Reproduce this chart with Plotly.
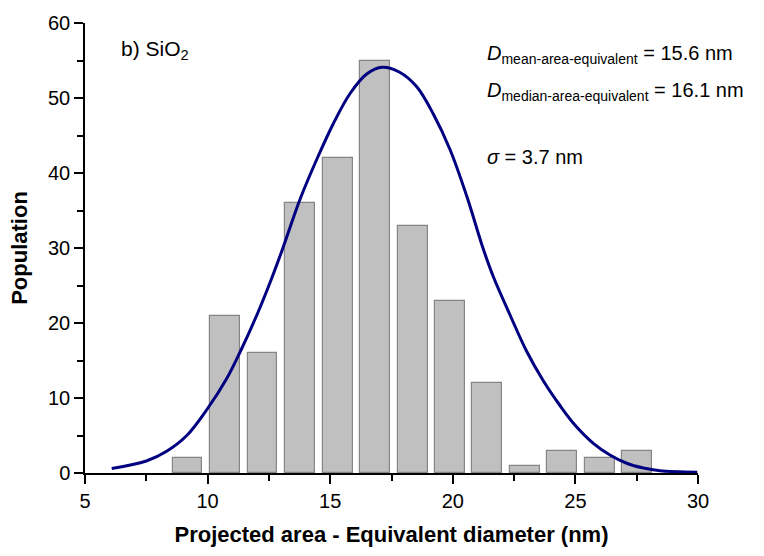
import plotly.graph_objects as go

# Histogram bins (centres, nm) and counts
bin_centers = [9.18, 10.71, 12.24, 13.77, 15.30, 16.83, 18.36, 19.89, 21.41, 22.95, 24.47, 26.01, 27.53]
counts = [2, 21, 16, 36, 42, 55, 33, 23, 12, 1, 3, 2, 3]

# Fitted distribution curve
fit_x = [6.09, 7.5, 8.33, 9.15, 10.0, 10.78, 11.32, 12.0, 12.5, 13.05, 13.77, 14.45, 15.13, 15.81,
         16.49, 17.12, 17.85, 18.53, 19.2, 19.89, 20.57, 21.24, 21.65, 22.33, 23.0, 23.69, 24.37,
         24.98, 25.73, 26.41, 27.09, 27.77, 28.45, 29.97]
fit_y = [0.6, 1.6, 2.9, 5.0, 8.6, 12.6, 16.1, 21.0, 25.0, 29.8, 36.5, 41.8, 46.6, 50.6,
         53.2, 54.1, 53.4, 51.5, 47.9, 43.1, 36.9, 29.9, 26.2, 21.1, 16.3, 12.3, 9.0,
         6.4, 3.96, 2.4, 1.3, 0.66, 0.3, 0.1]

x_ticks = [5, 10, 15, 20, 25, 30]
y_ticks = [0, 10, 20, 30, 40, 50, 60]

FONT = "Liberation Sans, Arial, sans-serif"

fig = go.Figure()
fig.add_trace(go.Bar(
    x=bin_centers, y=counts, width=1.22,
    marker=dict(color="#c0c0c0", line=dict(color="#858585", width=1.2)),
    showlegend=False, hoverinfo="skip",
))
fig.add_trace(go.Scatter(
    x=fit_x, y=fit_y, mode="lines",
    line=dict(color="#000080", width=3, shape="spline", smoothing=1.0),
    showlegend=False, hoverinfo="skip",
))

axis_common = dict(
    showline=True, linecolor="black", linewidth=1.5,
    ticks="outside", ticklen=9, tickwidth=1.5, tickcolor="black",
    showgrid=False, zeroline=False,
    tickfont=dict(family=FONT, size=20, color="black"),
)

fig.update_xaxes(
    range=[5, 30], tickvals=x_ticks, ticktext=[str(v) for v in x_ticks],
    minor=dict(ticks="outside", dtick=2.5, tick0=5, ticklen=6, tickwidth=1.5, tickcolor="black"),
    title=dict(text="<b>Projected area - Equivalent diameter (nm)</b>",
               font=dict(family=FONT, size=22, color="black"), standoff=16),
    **axis_common,
)
fig.update_yaxes(
    range=[0, 60], tickvals=y_ticks, ticktext=[str(v) for v in y_ticks],
    minor=dict(ticks="outside", dtick=5, tick0=0, ticklen=6, tickwidth=1.5, tickcolor="black"),
    title=dict(text="<b>Population</b>",
               font=dict(family=FONT, size=22, color="black"), standoff=14),
    **axis_common,
)

annot_font = dict(family=FONT, size=20, color="black")
fig.add_annotation(xref="paper", yref="paper", x=0.056, y=0.94, xanchor="left", yanchor="middle",
                   text="b) SiO<sub>2</sub>", showarrow=False, font=dict(family=FONT, size=21, color="black"))
fig.add_annotation(xref="paper", yref="paper", x=0.652, y=0.93, xanchor="left", yanchor="middle",
                   text="<i>D</i><sub>mean-area-equivalent</sub> = 15.6 nm", showarrow=False, font=annot_font)
fig.add_annotation(xref="paper", yref="paper", x=0.652, y=0.847, xanchor="left", yanchor="middle",
                   text="<i>D</i><sub>median-area-equivalent</sub> = 16.1 nm", showarrow=False, font=annot_font)
fig.add_annotation(xref="paper", yref="paper", x=0.652, y=0.702, xanchor="left", yanchor="middle",
                   text="<i>σ</i> = 3.7 nm", showarrow=False, font=annot_font)

fig.update_layout(
    width=764, height=556,
    margin=dict(l=85, r=66, t=20, b=83),
    plot_bgcolor="white", paper_bgcolor="white",
    bargap=0,
    font=dict(family=FONT, color="black"),
)

fig.write_html("out.html")
